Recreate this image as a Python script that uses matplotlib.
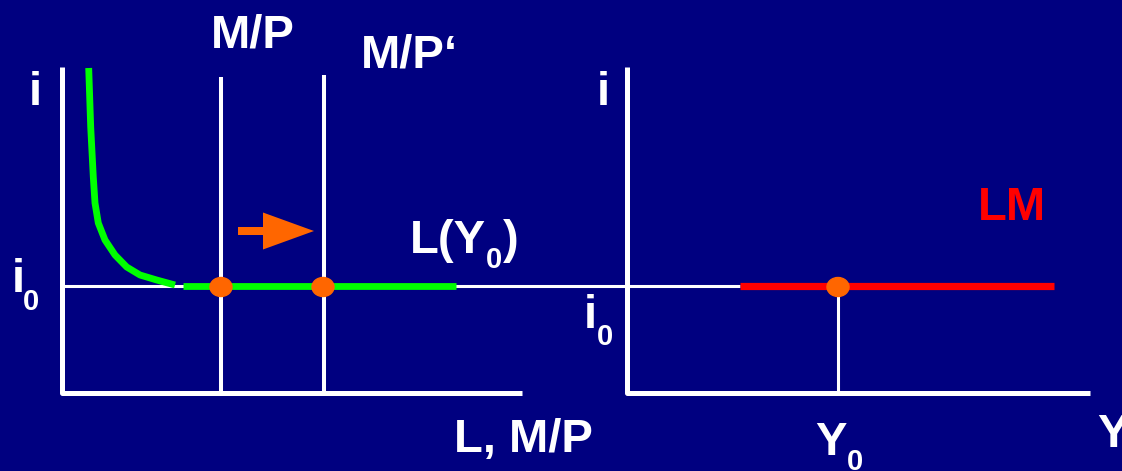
import matplotlib.pyplot as plt
from matplotlib.patches import Ellipse

# everything below is measured in pixels of the 1122x471 slide
bg = "#000080"
white = "white"
green = "#00ff00"
red = "#ff0000"
orange = "#ff6600"

# left panel: money market
left_axis_x = [62, 62, 522]
left_axis_y = [67, 393, 393]
mp_x = [221, 324]              # M/P and M/P' supply lines
mp_top = [77, 75]
i0_y = 286
i0_line_x = [62, 740]
liq_x = [88.7, 90.7, 93.3, 95, 98.3, 105, 115, 126.7, 140, 156.7, 175]
liq_y = [68, 127, 177, 203, 223, 240, 255, 267, 275, 280, 285]
trap_x = [183, 456]
dots_x = [221, 323, 838]

# right panel: LM curve
right_axis_x = [627, 627, 1090]
right_axis_y = [67, 393, 393]
lm_x = [740, 1054]
y0_x = 838

fig = plt.figure(figsize=(11.22, 4.71), dpi=100)
fig.patch.set_facecolor(bg)
ax = fig.add_axes([0, 0, 1, 1])
ax.set_facecolor(bg)
ax.set_xlim(0, 1122)
ax.set_ylim(471, 0)
ax.axis("off")

lw_axis = 3.6
ax.plot(i0_line_x, [i0_y, i0_y], color=white, lw=2.2, solid_capstyle="butt")
ax.plot(left_axis_x, left_axis_y, color=white, lw=lw_axis, solid_capstyle="butt")
ax.plot(right_axis_x, right_axis_y, color=white, lw=lw_axis, solid_capstyle="butt")
for x, top in zip(mp_x, mp_top):
    ax.plot([x, x], [top, 393], color=white, lw=2.9, solid_capstyle="butt")
ax.plot([y0_x, y0_x], [i0_y, 393], color=white, lw=2.2, solid_capstyle="butt")

ax.plot(liq_x, liq_y, color=green, lw=4.9, solid_capstyle="butt",
        solid_joinstyle="round")
ax.plot(trap_x, [i0_y, i0_y], color=green, lw=4.9, solid_capstyle="butt")
ax.plot(lm_x, [i0_y, i0_y], color=red, lw=5.2, solid_capstyle="butt")

for x in dots_x:
    ax.add_patch(Ellipse((x, i0_y + 1), 22, 19, color=orange, zorder=5))

ax.arrow(238, 231, 76, 0, width=8, head_width=37, head_length=51,
         length_includes_head=True, color=orange, lw=0)

font = {"family": "Liberation Sans", "weight": "bold", "color": white}
big = 34
sub = 21

def label(x, y, s, size=big, **kw):
    opts = dict(font)
    opts.update(kw)
    ax.text(x, y, s, fontsize=size, ha="left", va="baseline", **opts)

label(211, 48, "M/P")
label(361, 67, "M/P\u2018")
label(29, 105, "i")
label(597, 105, "i")
label(12, 292, "i")
label(23, 310, "0", sub)
label(584, 328, "i")
label(597, 345, "0", sub)
label(410, 253, "L(Y")
label(486, 268, "0", sub)
label(503, 253, ")")
label(454, 452, "L, M/P")
label(815, 455, "Y")
label(847, 470, "0", sub)
label(1097, 447, "Y")
label(978, 220, "LM", color=red)

fig.savefig("out.png", dpi=100, facecolor=bg)
